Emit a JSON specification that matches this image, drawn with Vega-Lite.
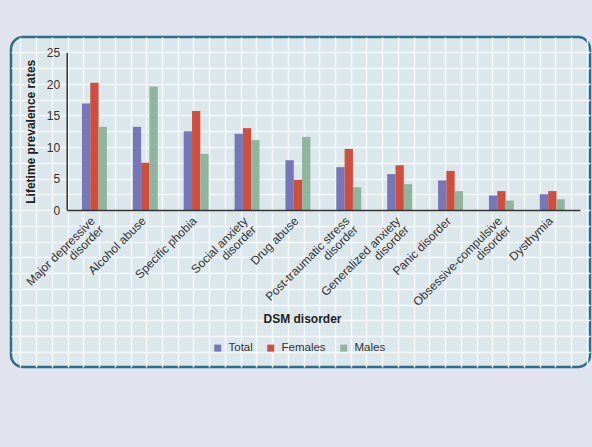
{
  "$schema": "https://vega.github.io/schema/vega-lite/v6.json",
  "width": 579,
  "height": 330,
  "autosize": {"type": "none"},
  "padding": {"left": 11, "top": 37, "right": 2, "bottom": 80},
  "background": "#e1e4ec",
  "config": {
    "view": {"fill": "#dce7eb", "stroke": "#2c6d8c", "strokeWidth": 2.5, "cornerRadius": 12},
    "font": "Liberation Sans"
  },
  "layer": [
    {
      "data": {"values": [{"gx": 1, "gy": 1}]},
      "mark": {"type": "point", "opacity": 0},
      "encoding": {
        "x": {
          "field": "gx", "type": "quantitative",
          "scale": {"domain": [0.4, 37.21], "nice": false, "zero": false},
          "axis": {"orient": "top", "zindex": 0, "values": [1,2,3,4,5,6,7,8,9,10,11,12,13,14,15,16,17,18,19,20,21,22,23,24,25,26,27,28,29,30,31,32,33,34,35,36,37],
                   "grid": true, "gridColor": "#f4f8f9", "gridWidth": 1.5, "gridOpacity": 1,
                   "labels": false, "ticks": false, "domain": false, "title": null}
        },
        "y": {
          "field": "gy", "type": "quantitative",
          "scale": {"domain": [0.032, 20.984], "nice": false, "zero": false},
          "axis": {"orient": "right", "zindex": 0, "values": [1,2,3,4,5,6,7,8,9,10,11,12,13,14,15,16,17,18,19,20],
                   "grid": true, "gridColor": "#f4f8f9", "gridWidth": 1.5, "gridOpacity": 1,
                   "labels": false, "ticks": false, "domain": false, "title": null}
        }
      }
    },
    {
      "data": {"values": [
        {"disorder": "Major depressive disorder", "group": "Total", "rate": 16.9},
        {"disorder": "Major depressive disorder", "group": "Females", "rate": 20.2},
        {"disorder": "Major depressive disorder", "group": "Males", "rate": 13.2},
        {"disorder": "Alcohol abuse", "group": "Total", "rate": 13.2},
        {"disorder": "Alcohol abuse", "group": "Females", "rate": 7.5},
        {"disorder": "Alcohol abuse", "group": "Males", "rate": 19.6},
        {"disorder": "Specific phobia", "group": "Total", "rate": 12.5},
        {"disorder": "Specific phobia", "group": "Females", "rate": 15.7},
        {"disorder": "Specific phobia", "group": "Males", "rate": 8.9},
        {"disorder": "Social anxiety disorder", "group": "Total", "rate": 12.1},
        {"disorder": "Social anxiety disorder", "group": "Females", "rate": 13.0},
        {"disorder": "Social anxiety disorder", "group": "Males", "rate": 11.1},
        {"disorder": "Drug abuse", "group": "Total", "rate": 7.9},
        {"disorder": "Drug abuse", "group": "Females", "rate": 4.8},
        {"disorder": "Drug abuse", "group": "Males", "rate": 11.6},
        {"disorder": "Post-traumatic stress disorder", "group": "Total", "rate": 6.8},
        {"disorder": "Post-traumatic stress disorder", "group": "Females", "rate": 9.7},
        {"disorder": "Post-traumatic stress disorder", "group": "Males", "rate": 3.6},
        {"disorder": "Generalized anxiety disorder", "group": "Total", "rate": 5.7},
        {"disorder": "Generalized anxiety disorder", "group": "Females", "rate": 7.1},
        {"disorder": "Generalized anxiety disorder", "group": "Males", "rate": 4.1},
        {"disorder": "Panic disorder", "group": "Total", "rate": 4.7},
        {"disorder": "Panic disorder", "group": "Females", "rate": 6.2},
        {"disorder": "Panic disorder", "group": "Males", "rate": 3.0},
        {"disorder": "Obsessive-compulsive disorder", "group": "Total", "rate": 2.3},
        {"disorder": "Obsessive-compulsive disorder", "group": "Females", "rate": 3.0},
        {"disorder": "Obsessive-compulsive disorder", "group": "Males", "rate": 1.5},
        {"disorder": "Dysthymia", "group": "Total", "rate": 2.5},
        {"disorder": "Dysthymia", "group": "Females", "rate": 3.0},
        {"disorder": "Dysthymia", "group": "Males", "rate": 1.7}
      ]},
      "mark": {"type": "bar"},
      "encoding": {
        "x": {
          "field": "disorder", "type": "nominal", "sort": null,
          "scale": {"range": [55.7, 569], "paddingInner": 0.51, "paddingOuter": 0.3},
          "axis": {
            "orient": "bottom", "zindex": 1, "offset": -157, "ticks": false, "grid": false,
            "labelAngle": -45, "labelAlign": "right", "labelBaseline": "top", "labelPadding": 5,
            "labelOffset": -5,
            "labelFontSize": 12, "labelColor": "#333333", "labelLineHeight": 12, "labelLimit": 0,
            "labelExpr": "datum.value == 'Major depressive disorder' ? ['Major depressive', 'disorder'] : datum.value == 'Social anxiety disorder' ? ['Social anxiety', 'disorder'] : datum.value == 'Post-traumatic stress disorder' ? ['Post-traumatic stress', 'disorder'] : datum.value == 'Generalized anxiety disorder' ? ['Generalized anxiety', 'disorder'] : datum.value == 'Obsessive-compulsive disorder' ? ['Obsessive-compulsive', 'disorder'] : datum.label",
            "domainColor": "#333333", "domainWidth": 1.5,
            "title": "DSM disorder", "titleX": 291, "titleY": 112, "titleBaseline": "alphabetic",
            "titleFontSize": 12, "titleFontWeight": "bold", "titleColor": "#222222"
          }
        },
        "xOffset": {
          "field": "group", "type": "nominal", "sort": ["Total", "Females", "Males"],
          "scale": {"paddingInner": 0, "paddingOuter": 0}
        },
        "y": {
          "field": "rate", "type": "quantitative",
          "scale": {"domain": [0, 25], "range": [173, 15.5], "nice": false},
          "axis": {
            "orient": "left", "zindex": 1, "offset": -55.7, "values": [0, 5, 10, 15, 20, 25],
            "ticks": false, "grid": false, "labelPadding": 7,
            "labelFontSize": 12, "labelColor": "#333333",
            "domainColor": "#333333", "domainWidth": 1.5,
            "title": "Lifetime prevalence rates", "titleFontSize": 12, "titleFontWeight": "bold",
            "titleColor": "#222222", "titlePadding": 9
          }
        },
        "color": {
          "field": "group", "type": "nominal", "sort": ["Total", "Females", "Males"],
          "scale": {"domain": ["Total", "Females", "Males"], "range": ["#7677b8", "#cd503e", "#8fb59e"]},
          "legend": {
            "orient": "none", "legendX": 201, "legendY": 305, "direction": "horizontal",
            "title": null, "symbolType": "square", "symbolSize": 49, "symbolStrokeWidth": 0,
            "symbolOpacity": 1, "labelFontSize": 11.5, "labelColor": "#333333",
            "labelOffset": 5, "columnPadding": 12, "padding": 0
          }
        }
      }
    }
  ],
  "resolve": {
    "scale": {"x": "independent", "y": "independent"},
    "axis": {"x": "independent", "y": "independent"}
  }
}
